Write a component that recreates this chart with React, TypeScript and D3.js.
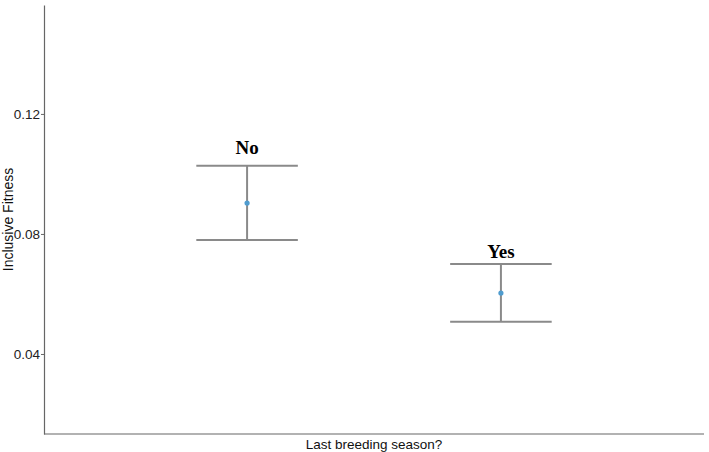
import React, { useEffect, useRef } from "react";
import * as d3 from "d3";

// values
const categories = ["No", "Yes"];
const means = [0.0903, 0.0603];
const lower = [0.078, 0.0507];
const upper = [0.1027, 0.07];
const labelY = [0.1067, 0.072];
const yTicks = [0.04, 0.08, 0.12];

const W = 709;
const H = 452;

export default function App() {
  const ref = useRef<SVGSVGElement>(null);

  useEffect(() => {
    const svg = d3.select(ref.current);
    svg.selectAll("*").remove();

    const margin = { top: 5, right: 5, bottom: 18, left: 44 };
    const w = W - margin.left - margin.right;
    const h = H - margin.top - margin.bottom;

    const g = svg
      .append("g")
      .attr("transform", `translate(${margin.left}, ${margin.top})`);

    const x = d3.scalePoint().domain(categories).range([0, w]).padding(0.8);
    const y = d3.scaleLinear().domain([0.01333, 0.1563]).range([h, 0]);

    const capHalf = x.step() * 0.2;

    const data = categories.map((c, i) => ({
      cat: c,
      mean: means[i],
      lo: lower[i],
      hi: upper[i],
      ly: labelY[i],
    }));

    // y axis
    const yAxis = g
      .append("g")
      .call(
        d3
          .axisLeft(y)
          .tickValues(yTicks)
          .tickFormat(d3.format(".2f"))
          .tickSizeInner(3)
          .tickSizeOuter(0)
          .tickPadding(1)
      );
    yAxis.select(".domain").attr("stroke", "#666").attr("stroke-width", 1.2);
    yAxis.selectAll(".tick line").attr("stroke", "#666");
    yAxis
      .selectAll(".tick text")
      .attr("fill", "#222")
      .attr("font-size", "13.5px")
      .attr("font-family", "Liberation Sans, Arial, sans-serif");

    // x axis line only
    g.append("line")
      .attr("x1", 0)
      .attr("x2", w)
      .attr("y1", h)
      .attr("y2", h)
      .attr("stroke", "#666")
      .attr("stroke-width", 1.2);

    // error bars
    const bars = g.selectAll(".bar").data(data).join("g").attr("class", "bar");
    bars
      .append("line")
      .attr("x1", (d) => x(d.cat)!)
      .attr("x2", (d) => x(d.cat)!)
      .attr("y1", (d) => y(d.lo))
      .attr("y2", (d) => y(d.hi))
      .attr("stroke", "#8a8a8a")
      .attr("stroke-width", 2);
    bars
      .append("line")
      .attr("x1", (d) => x(d.cat)! - capHalf)
      .attr("x2", (d) => x(d.cat)! + capHalf)
      .attr("y1", (d) => y(d.hi))
      .attr("y2", (d) => y(d.hi))
      .attr("stroke", "#8a8a8a")
      .attr("stroke-width", 2);
    bars
      .append("line")
      .attr("x1", (d) => x(d.cat)! - capHalf)
      .attr("x2", (d) => x(d.cat)! + capHalf)
      .attr("y1", (d) => y(d.lo))
      .attr("y2", (d) => y(d.lo))
      .attr("stroke", "#8a8a8a")
      .attr("stroke-width", 2);
    bars
      .append("circle")
      .attr("cx", (d) => x(d.cat)!)
      .attr("cy", (d) => y(d.mean))
      .attr("r", 2.6)
      .attr("fill", "#4f9ccf");
    bars
      .append("text")
      .attr("x", (d) => x(d.cat)!)
      .attr("y", (d) => y(d.ly))
      .attr("text-anchor", "middle")
      .attr("font-family", "Liberation Serif, Times New Roman, serif")
      .attr("font-weight", "bold")
      .attr("font-size", "19px")
      .attr("fill", "#000")
      .text((d) => d.cat);

    // axis titles
    svg
      .append("text")
      .attr("x", margin.left + w / 2)
      .attr("y", H - 3)
      .attr("text-anchor", "middle")
      .attr("font-family", "Liberation Sans, Arial, sans-serif")
      .attr("font-size", "13.5px")
      .attr("fill", "#111")
      .text("Last breeding season?");

    svg
      .append("text")
      .attr("transform", `translate(13, ${margin.top + h / 2}) rotate(-90)`)
      .attr("text-anchor", "middle")
      .attr("font-family", "Liberation Sans, Arial, sans-serif")
      .attr("font-size", "14px")
      .attr("fill", "#111")
      .text("Inclusive Fitness");
  }, []);

  return (
    <svg
      ref={ref}
      width={W}
      height={H}
      style={{ position: "absolute", left: 0, top: 0, background: "#fff" }}
    />
  );
}
